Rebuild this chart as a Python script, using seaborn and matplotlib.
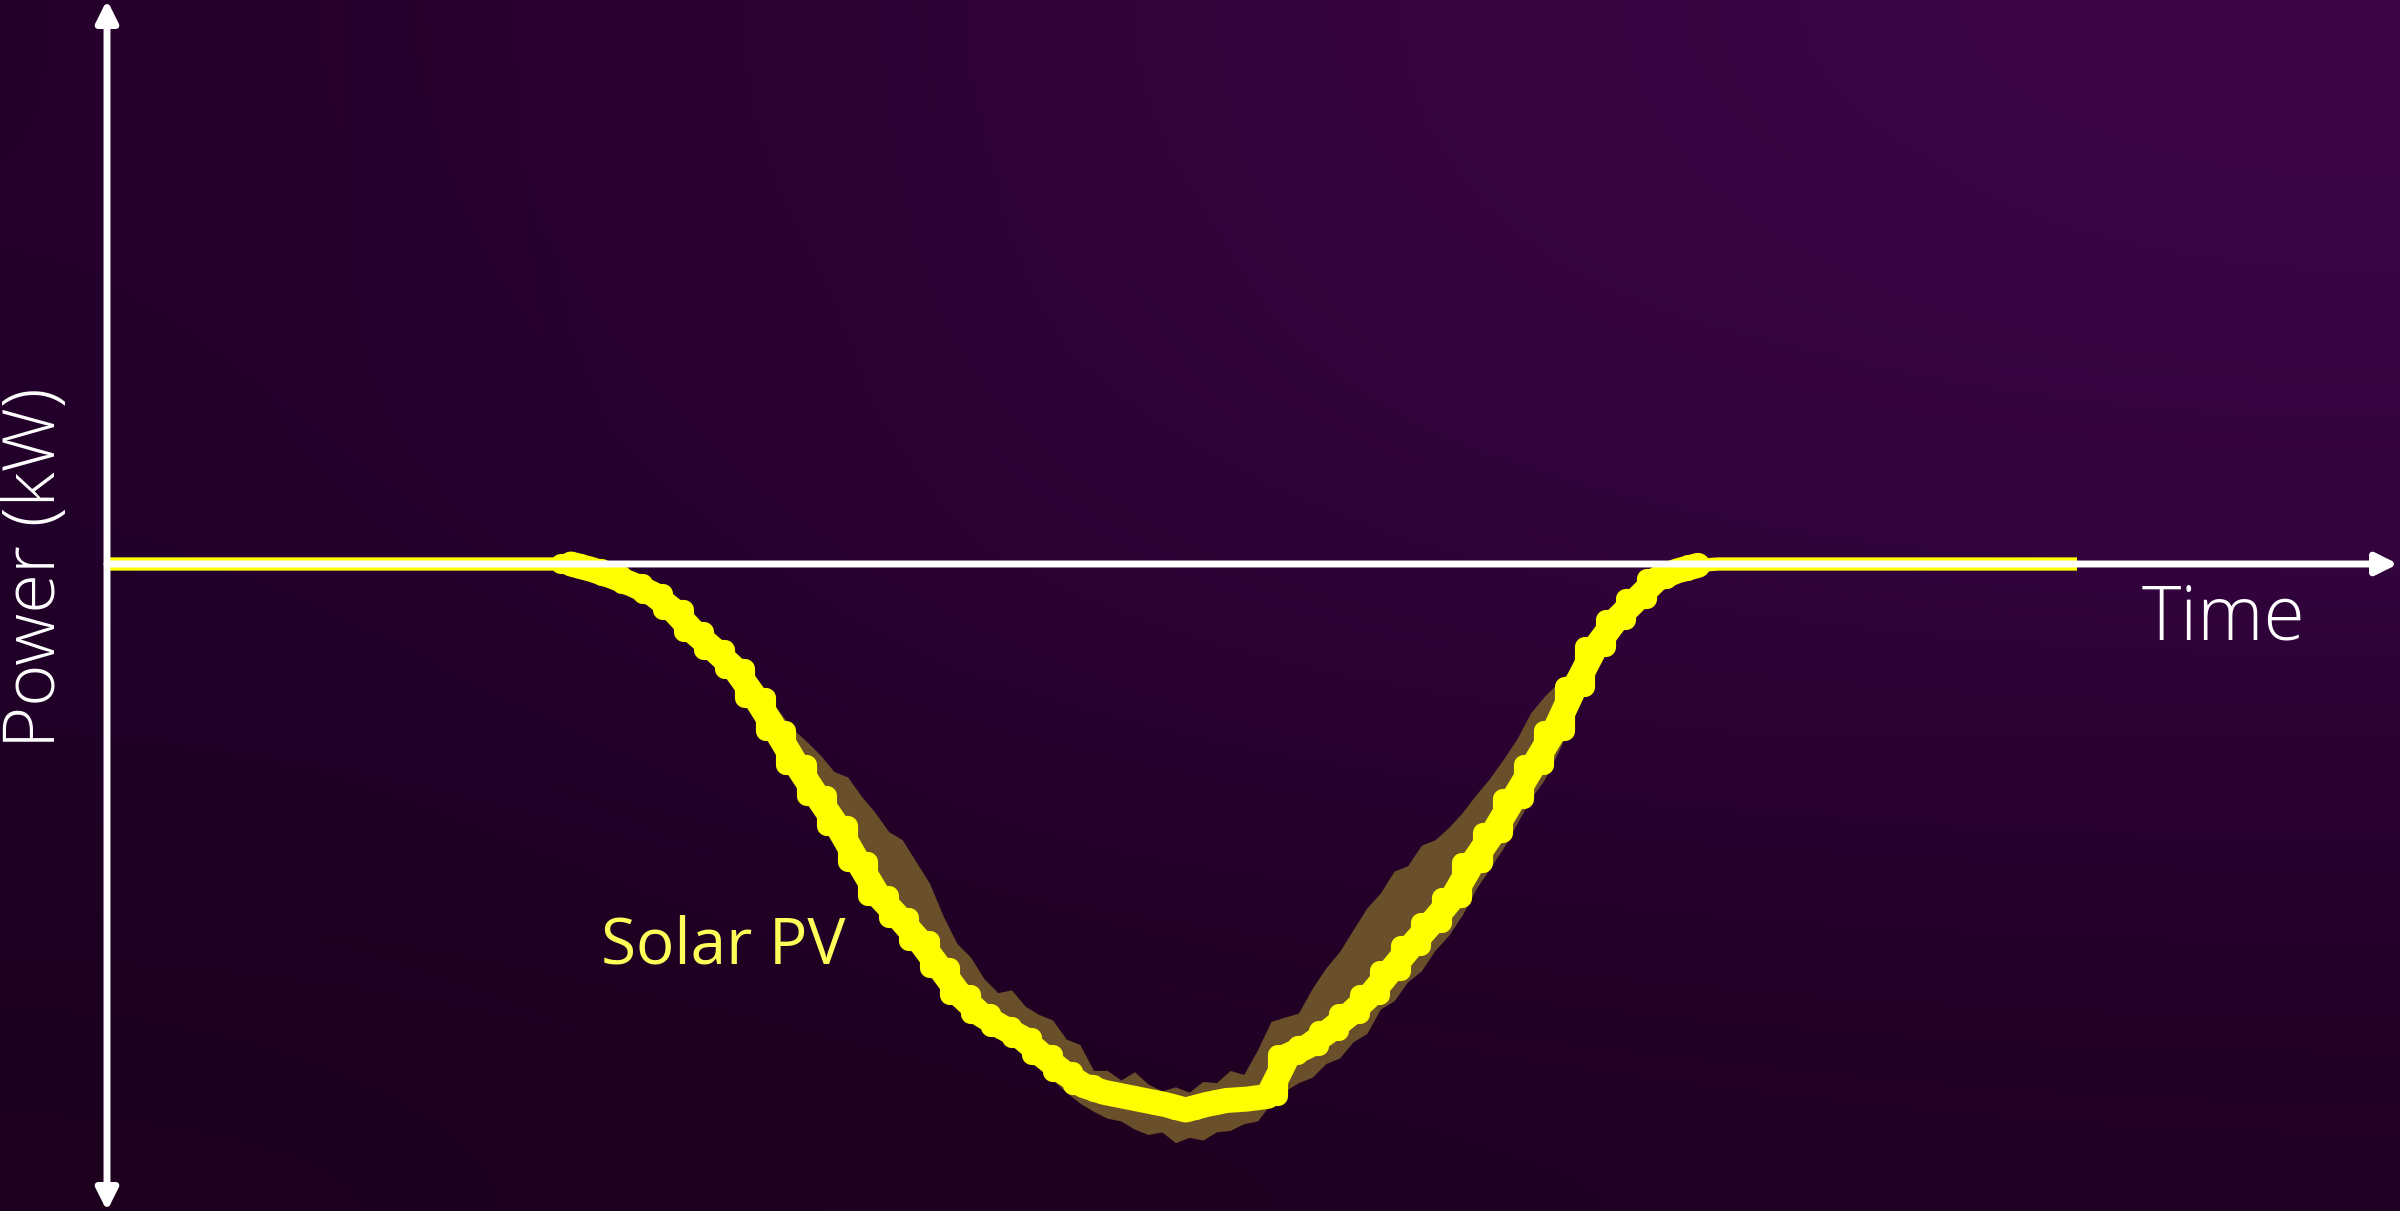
import numpy as np
import pandas as pd
import matplotlib
matplotlib.use("Agg")
import matplotlib.pyplot as plt
import seaborn as sns

# ---------------- data ----------------
# 15-minute averaged solar PV power (kW, negative = generation),
# values placed at the centre of each 15-minute interval, plus 00:00 and 24:00
quarter_hours = np.concatenate([[0.0], np.arange(96) * 0.25 + 0.125, [24.0]])
pv_kw = [0.0] * 23 + [
    0.00, -0.04, -0.09, -0.15, -0.22, -0.34, -0.50, -0.63, -0.77, -0.98,
    -1.22, -1.47, -1.70, -1.92, -2.18, -2.43, -2.59, -2.76, -2.96, -3.16,
    -3.30, -3.39, -3.47, -3.60, -3.72, -3.82, -3.87, -3.90, -3.93, -3.96,
    -4.00, -3.96, -3.93, -3.92, -3.90, -3.60, -3.53, -3.42, -3.30, -3.16,
    -2.98, -2.80, -2.63, -2.45, -2.19, -1.97, -1.72, -1.47, -1.22, -0.90,
    -0.61, -0.41, -0.26, -0.11, -0.05, -0.01,
] + [0.0] * 19

# raw (high resolution) PV variability envelope, 10-minute points 05:30 .. 19:30
band_hours = 5.5 + np.arange(85) / 6
band_upper = [
    0.00, 0.00, -0.01, -0.04, -0.08, -0.12, -0.16, -0.21, -0.28, -0.37,
    -0.46, -0.55, -0.62, -0.70, -0.83, -0.95, -1.08, -1.21, -1.30, -1.40,
    -1.52, -1.56, -1.70, -1.82, -1.96, -2.02, -2.18, -2.34, -2.58, -2.78,
    -2.88, -3.04, -3.14, -3.12, -3.24, -3.30, -3.34, -3.48, -3.52, -3.71,
    -3.71, -3.78, -3.72, -3.81, -3.86, -3.83, -3.87, -3.79, -3.80, -3.71,
    -3.74, -3.56, -3.35, -3.32, -3.29, -3.11, -2.96, -2.84, -2.68, -2.52,
    -2.41, -2.25, -2.21, -2.06, -2.02, -1.93, -1.82, -1.69, -1.57, -1.43,
    -1.28, -1.09, -0.97, -0.87, -0.77, -0.64, -0.50, -0.38, -0.29, -0.19,
    -0.10, -0.06, -0.02, 0.00, 0.00,
]
band_lower = [
    -0.02, -0.03, -0.05, -0.08, -0.12, -0.16, -0.24, -0.31, -0.40, -0.50,
    -0.60, -0.69, -0.78, -0.88, -1.03, -1.18, -1.34, -1.51, -1.67, -1.82,
    -1.96, -2.13, -2.30, -2.47, -2.59, -2.70, -2.81, -2.94, -3.07, -3.21,
    -3.31, -3.40, -3.47, -3.53, -3.60, -3.69, -3.78, -3.87, -3.95, -4.01,
    -4.06, -4.08, -4.14, -4.18, -4.16, -4.24, -4.20, -4.22, -4.16, -4.15,
    -4.10, -4.08, -3.95, -3.86, -3.80, -3.76, -3.66, -3.62, -3.50, -3.44,
    -3.26, -3.20, -3.06, -2.98, -2.83, -2.72, -2.57, -2.38, -2.23, -2.08,
    -1.90, -1.72, -1.58, -1.38, -1.16, -0.90, -0.70, -0.55, -0.44, -0.30,
    -0.18, -0.12, -0.07, -0.03, -0.01,
]

series_label = "Solar PV"
x_label = "Time"
y_label = "Power (kW)"

# ---------------- style ----------------
sns.set_theme(style="white")
plt.rcParams["font.family"] = ["Open Sans", "DejaVu Sans"]

PX_PER_H = 81.96
PX_PER_KW = 136.5
X_MIN, X_MAX = -110 / PX_PER_H, (2400 - 110) / PX_PER_H
Y_MIN, Y_MAX = -(1211 - 564) / PX_PER_KW, 564 / PX_PER_KW

fig = plt.figure(figsize=(24, 12.11), dpi=100)
ax = fig.add_axes([0, 0, 1, 1])
ax.set_axis_off()

bg_hex = [
    ["#240029", "#36043f", "#3e0548"],
    ["#21002a", "#2d0338", "#32033e"],
    ["#1c001e", "#1f0021", "#200023"],
]
bg = np.array([[matplotlib.colors.to_rgb(c) for c in row] for row in bg_hex])
ax.imshow(bg, extent=[X_MIN, X_MAX, Y_MIN, Y_MAX], aspect="auto",
          interpolation="bicubic", origin="upper", zorder=0)

# variability band
ax.fill_between(band_hours, band_lower, band_upper, color="#6a4f2b",
                linewidth=0, zorder=2)

df = pd.DataFrame({"hour": quarter_hours, "kw": pv_kw})
# thin trace across the whole day (night-time zero line)
sns.lineplot(data=df, x="hour", y="kw", ax=ax, color="#ffff00",
             linewidth=9.6, estimator=None,
             solid_capstyle="butt", zorder=3)
day = df[(df["hour"] >= 5.5) & (df["hour"] <= 19.5)]
# 15-minute blocks give the lumpy edge, smooth trace gives the body
sns.lineplot(x=day["hour"] - 0.125, y=day["kw"], ax=ax, color="#ffff00",
             linewidth=14.5, estimator=None, drawstyle="steps-post",
             solid_capstyle="round", solid_joinstyle="round", zorder=4)
sns.lineplot(data=day, x="hour", y="kw", ax=ax, color="#ffff00",
             linewidth=18, estimator=None,
             solid_capstyle="round", solid_joinstyle="round", zorder=4)

# axes arrows
yax_x = (107 - 110) / PX_PER_H
ax.annotate("", xy=(yax_x, Y_MAX), xytext=(yax_x, Y_MIN),
            arrowprops=dict(arrowstyle="<|-|>", color="white", lw=5,
                            mutation_scale=32, shrinkA=0, shrinkB=0),
            zorder=6)
ax.annotate("", xy=((2398 - 110) / PX_PER_H, 0.0), xytext=(yax_x, 0.0),
            arrowprops=dict(arrowstyle="-|>", color="white", lw=5,
                            mutation_scale=32, shrinkA=0, shrinkB=0),
            zorder=6)

ax.text((2223 - 110) / PX_PER_H, -(620 - 564) / PX_PER_KW, x_label,
        color="white", fontsize=54, fontweight="light",
        ha="center", va="center", zorder=7)
ax.text((36 - 110) / PX_PER_H, -(568 - 564) / PX_PER_KW, y_label,
        color="white", fontsize=52, fontweight="light", rotation=90,
        ha="center", va="center", zorder=7)
ax.text((723 - 110) / PX_PER_H, -(947 - 564) / PX_PER_KW, series_label,
        color="#ffff5a", fontsize=46, ha="center", va="center", zorder=7)

ax.set_xlim(X_MIN, X_MAX)
ax.set_ylim(Y_MIN, Y_MAX)
if ax.get_legend() is not None:
    ax.get_legend().remove()

fig.savefig("out.png", dpi=100, facecolor="#1e0020")
